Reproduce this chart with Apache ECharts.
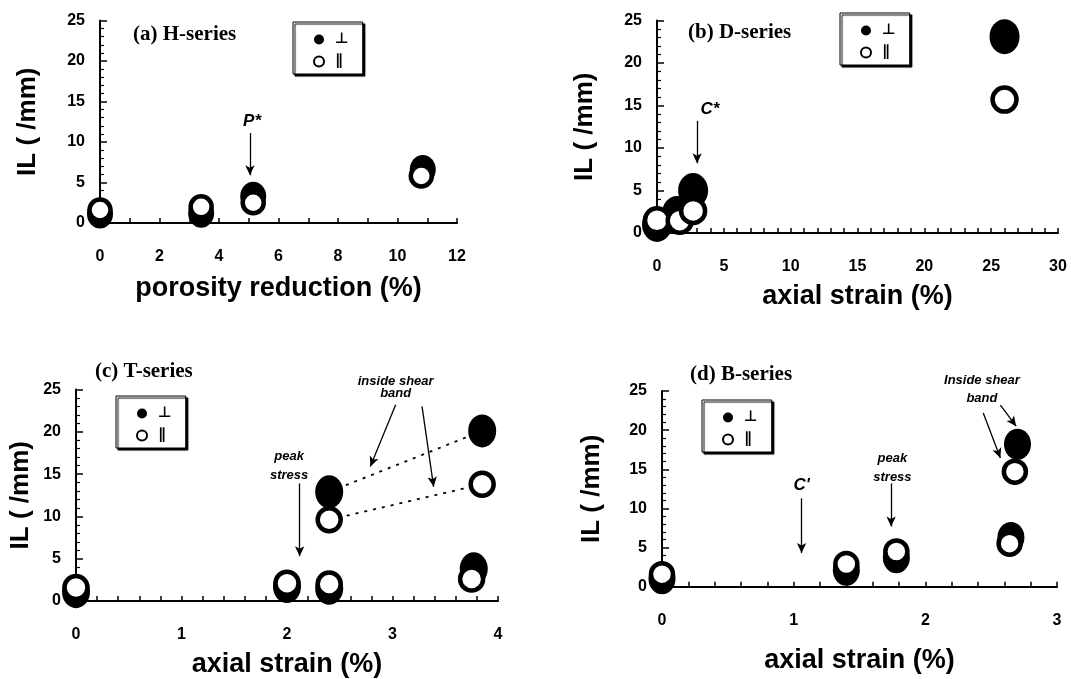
<!DOCTYPE html>
<html>
<head>
<meta charset="utf-8">
<script src="https://cdn.jsdelivr.net/npm/echarts@6/dist/echarts.min.js"></script>
<style>html,body{margin:0;padding:0;background:#fff;}#c{width:1071px;height:679px;}</style>
</head>
<body>
<div id="c"></div>
<script>
// ---------- data ----------
const yTicks = [0, 5, 10, 15, 20, 25];

// (a) H-series : porosity reduction (%)
const aPerpX = [0, 3.4, 5.15, 10.85];
const aPerpY = [1.1, 1.2, 3.3, 6.6];
const aParX  = [0, 3.4, 5.15, 10.8];
const aParY  = [1.6, 2.0, 2.5, 5.8];

// (b) D-series : axial strain (%)
const bPerpX = [0, 1.5, 2.7, 26];
const bPerpY = [1.0, 2.3, 5.0, 23.1];
const bParX  = [0, 1.7, 2.7, 26];
const bParY  = [1.5, 1.45, 2.6, 15.7];

// (c) T-series : axial strain (%)
const cPerpX = [0, 2.0, 2.4, 2.4, 3.77, 3.85];
const cPerpY = [1.1, 1.7, 1.5, 12.9, 3.8, 20.1];
const cParX  = [0, 2.0, 2.4, 2.4, 3.75, 3.85];
const cParY  = [1.6, 2.1, 2.0, 9.6, 2.6, 13.8];

// (d) B-series : axial strain (%)
const dPerpX = [0, 1.4, 1.78, 2.65, 2.7];
const dPerpY = [1.0, 2.1, 3.7, 6.3, 18.2];
const dParX  = [0, 1.4, 1.78, 2.64, 2.68];
const dParY  = [1.6, 2.9, 4.5, 5.5, 14.7];

// inside-shear-band links in (c): [x1, y1, x2, y2]
const cLinks = [[2.4, 12.9, 3.85, 20.1], [2.4, 9.6, 3.85, 13.8]];

// annotation texts [x, y, text]
const aNotes = [[5.11, 12.5, 'P*']];
const bNotes = [[3.96, 14.5, 'C*']];
const cNotes = [[2.02, 16.0, 'peak\nstress'], [3.03, 25.3, 'inside shear\nband']];
const dNotes = [[1.06, 13.0, "C'"], [1.75, 15.2, 'peak\nstress'], [2.43, 25.2, 'Inside shear\nband']];

// annotation arrows [x1, y1, x2, y2] (tail -> head)
const aArrows = [[5.04, 11.1, 5.04, 5.9]];
const bArrows = [[3.0, 13.2, 3.0, 8.2]];
const cArrows = [[2.12, 13.9, 2.12, 5.3], [3.03, 23.2, 2.79, 15.9], [3.28, 23.0, 3.39, 13.5]];
const dArrows = [[1.06, 11.3, 1.06, 4.3], [1.74, 13.2, 1.74, 7.7], [2.44, 22.2, 2.57, 16.45], [2.57, 23.2, 2.69, 20.5]];

const panelTitles = ['(a) H-series', '(b) D-series', '(c) T-series', '(d) B-series'];
const xTitles = ['porosity reduction (%)', 'axial strain (%)', 'axial strain (%)', 'axial strain (%)'];
const yTitle = 'IL ( /mm)';
const perpName = '\u22A5';
const parName = '\u2225';

// ---------- layout / style ----------
const grids = [
  {left: 100, top: 20.5, width: 357, height: 202.5},
  {left: 657, top: 20.5, width: 401, height: 212.5},
  {left: 76, top: 389.5, width: 422, height: 212.2},
  {left: 662, top: 391, width: 395, height: 195.7}
];
const xCfg = [
  {max: 12, interval: 2, minor: 2, nameGap: 52},
  {max: 30, interval: 5, minor: 5, nameGap: 50},
  {max: 4, interval: 1, minor: 5, nameGap: 50},
  {max: 3, interval: 1, minor: 5, nameGap: 60}
];
const yNameGap = [59, 59, 42, 57];
const perpSize = [[26, 29], [30, 35], [28, 33], [27, 31]];
const parSize = [21, 24, 23, 22];
const titlePos = [{left: 133, top: 24}, {left: 688, top: 22}, {left: 95, top: 361}, {left: 690, top: 364}];
const legendPos = [{left: 293, top: 22}, {left: 840, top: 13}, {left: 116, top: 396}, {left: 702, top: 400}];
const shearLineHeight = [12, 12, 12, 18];

const sans = 'Liberation Sans, Arial, sans-serif';
const zip = (xs, ys) => xs.map((x, i) => [x, ys[i]]);

const panels = [
  {perp: zip(aPerpX, aPerpY), par: zip(aParX, aParY), notes: aNotes, arrows: aArrows},
  {perp: zip(bPerpX, bPerpY), par: zip(bParX, bParY), notes: bNotes, arrows: bArrows},
  {perp: zip(cPerpX, cPerpY), par: zip(cParX, cParY), notes: cNotes, arrows: cArrows, links: cLinks},
  {perp: zip(dPerpX, dPerpY), par: zip(dParX, dParY), notes: dNotes, arrows: dArrows}
];

const xAxis = xCfg.map((c, i) => ({
  type: 'value', gridIndex: i, min: 0, max: c.max, interval: c.interval,
  name: xTitles[i], nameLocation: 'middle', nameGap: c.nameGap,
  nameTextStyle: {fontFamily: sans, fontWeight: 'bold', fontSize: 27, color: '#000'},
  axisLine: {show: true, onZero: false, lineStyle: {color: '#000', width: 2}},
  axisTick: {show: true, inside: true, length: 5, lineStyle: {color: '#000', width: 1.5}},
  minorTick: {show: true, splitNumber: c.minor, length: 5, lineStyle: {color: '#000', width: 1.5}},
  splitLine: {show: false}, minorSplitLine: {show: false},
  axisLabel: {color: '#000', fontFamily: sans, fontWeight: 'bold', fontSize: 16, margin: 26}
}));

const yAxis = grids.map((g, i) => ({
  type: 'value', gridIndex: i, min: 0, max: 25, interval: 5,
  name: yTitle, nameLocation: 'middle', nameGap: yNameGap[i], nameRotate: 90,
  nameTextStyle: {fontFamily: sans, fontWeight: 'bold', fontSize: 26, color: '#000'},
  axisLine: {show: true, onZero: false, lineStyle: {color: '#000', width: 2}},
  axisTick: {show: true, inside: true, length: 7, lineStyle: {color: '#000', width: 1.5}},
  minorTick: {show: true, splitNumber: 5, length: 4, lineStyle: {color: '#000', width: 1.2}},
  splitLine: {show: false}, minorSplitLine: {show: false},
  axisLabel: {color: '#000', fontFamily: sans, fontWeight: 'bold', fontSize: 16, margin: 15,
    customValues: yTicks}
}));

const series = [];
panels.forEach((p, i) => {
  if (p.links) {
    p.links.forEach(l => {
      series.push({
        type: 'line', xAxisIndex: i, yAxisIndex: i, data: [[l[0], l[1]], [l[2], l[3]]],
        symbol: 'none', silent: true, z: 1,
        lineStyle: {color: '#000', width: 1.8, type: [3, 6]}
      });
    });
  }
  series.push({
    type: 'scatter', name: perpName, xAxisIndex: i, yAxisIndex: i, data: p.perp,
    symbol: 'circle', symbolSize: perpSize[i], clip: false, z: 3,
    itemStyle: {color: '#000', opacity: 1}, emphasis: {disabled: true}
  });
  series.push({
    type: 'scatter', name: parName, xAxisIndex: i, yAxisIndex: i, data: p.par,
    symbol: 'circle', symbolSize: parSize[i], clip: false, z: 4,
    itemStyle: {color: '#fff', borderColor: '#000', borderWidth: 4.5, opacity: 1},
    emphasis: {disabled: true}
  });
  series.push({
    type: 'scatter', name: 'notes', xAxisIndex: i, yAxisIndex: i, clip: false, z: 5, silent: true,
    symbolSize: 0, itemStyle: {color: '#000'},
    emphasis: {disabled: true},
    data: p.notes.map(n => {
      const small = n[2].indexOf('\n') >= 0;
      return {
        value: [n[0], n[1]], name: n[2],
        label: {
          show: true, position: 'inside', formatter: '{b}', color: '#000', opacity: 1,
          textBorderWidth: 0, textShadowBlur: 0,
          fontFamily: sans, fontWeight: 'bold', fontStyle: 'italic',
          fontSize: small ? 13 : 17,
          lineHeight: small ? (n[2].indexOf('shear') >= 0 ? shearLineHeight[i] : 19) : 20
        }
      };
    }),
    markLine: {
      silent: true, symbol: ['none', 'arrow'], symbolSize: [7, 10], animation: false,
      label: {show: false},
      lineStyle: {color: '#000', width: 1.3, type: 'solid', opacity: 1},
      itemStyle: {color: '#000'},
      emphasis: {disabled: true},
      data: p.arrows.map(a => [{coord: [a[0], a[1]]}, {coord: [a[2], a[3]]}])
    }
  });
});

const legend = legendPos.map((lp, i) => ({
  left: lp.left, top: lp.top, orient: 'vertical', selectedMode: false,
  backgroundColor: '#fff', borderColor: '#000', borderWidth: 1,
  shadowColor: 'rgba(0,0,0,1)', shadowBlur: 1, shadowOffsetX: 2, shadowOffsetY: 2,
  padding: [10, 14, 5, 20], itemGap: 7, itemWidth: 10, itemHeight: 12,
  textStyle: {fontFamily: 'DejaVu Sans', fontWeight: 'bold', fontSize: 15, lineHeight: 14,
    color: '#000', padding: [0, 0, 0, 6]},
  data: [
    {name: perpName, icon: 'circle', itemStyle: {color: '#000', borderWidth: 0}},
    {name: parName, icon: 'circle', itemStyle: {color: '#fff', borderColor: '#000', borderWidth: 2}}
  ]
}));

const title = panelTitles.map((t, i) => ({
  text: t, left: titlePos[i].left, top: titlePos[i].top, padding: 0,
  textStyle: {fontFamily: 'Liberation Serif, Times New Roman, serif', fontWeight: 'bold', fontSize: 21, color: '#000'}
}));

const chart = echarts.init(document.getElementById('c'), null, {renderer: 'canvas'});
chart.setOption({
  animation: false,
  backgroundColor: '#fff',
  title: title,
  legend: legend,
  grid: grids,
  xAxis: xAxis,
  yAxis: yAxis,
  series: series
});
</script>
</body>
</html>
